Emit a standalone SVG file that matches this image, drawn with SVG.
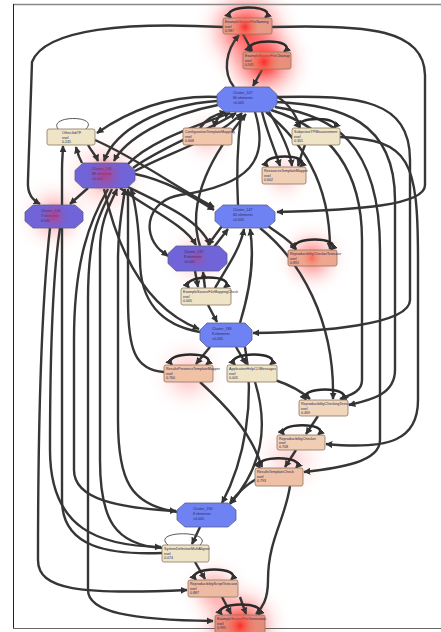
<svg xmlns="http://www.w3.org/2000/svg" width="441" height="632" viewBox="0 0 441 632">
<defs>
<radialGradient id="glow"><stop offset="0" stop-color="#ff1010" stop-opacity="0.95"/><stop offset="0.3" stop-color="#ff3838" stop-opacity="0.6"/><stop offset="0.7" stop-color="#ff9a9a" stop-opacity="0.15"/><stop offset="1" stop-color="#ffffff" stop-opacity="0"/></radialGradient>
<radialGradient id="hot"><stop offset="0" stop-color="#ff2020" stop-opacity="0.9"/><stop offset="0.5" stop-color="#ff4a3a" stop-opacity="0.45"/><stop offset="1" stop-color="#ff6050" stop-opacity="0"/></radialGradient>
<radialGradient id="pink"><stop offset="0" stop-color="#d0306a" stop-opacity="0.7"/><stop offset="0.6" stop-color="#c04080" stop-opacity="0.25"/><stop offset="1" stop-color="#b04090" stop-opacity="0"/></radialGradient>
<marker id="ah" viewBox="0 0 10 10" refX="9" refY="5" markerWidth="7" markerHeight="7" markerUnits="userSpaceOnUse" orient="auto-start-reverse"><path d="M0,0 L10,5 L0,10 z" fill="#333"/></marker>
<style>
.e{fill:none;stroke:#363636;stroke-width:2.4;marker-end:url(#ah)}
.loop{fill:none;stroke:#2a2a2a;stroke-width:2.4;marker-end:url(#ah);marker-start:url(#ah)}
.wl{fill:none;stroke:#444;stroke-width:0.9}
.r{stroke:#8a7660;stroke-width:0.8}
.o{stroke:#55608a;stroke-width:0.8}
.blue{fill:#6f82f4}
.pur{fill:#7064d8}
.beige{fill:#efe4c6}
.t{font-family:"Liberation Sans",Arial,sans-serif;font-size:3.6px;fill:#2a2a50}
.frame{stroke:#222;stroke-width:1;fill:none}
</style>
</defs>
<rect width="441" height="632" fill="#ffffff"/>
<g id="glows">
<circle cx="247" cy="30" r="56" fill="url(#glow)"/>
<circle cx="264" cy="62" r="52" fill="url(#glow)"/>
<circle cx="240" cy="626" r="52" fill="url(#glow)"/>
<circle cx="214" cy="590" r="38" fill="url(#glow)" opacity="0.45"/>
<circle cx="105" cy="176" r="52" fill="url(#glow)" opacity="0.35"/>
<circle cx="54" cy="216" r="42" fill="url(#glow)" opacity="0.45"/>
<circle cx="312" cy="258" r="40" fill="url(#glow)" opacity="0.6"/>
<circle cx="207" cy="138" r="34" fill="url(#glow)" opacity="0.25"/>
<circle cx="284" cy="176" r="34" fill="url(#glow)" opacity="0.25"/>
<circle cx="188" cy="375" r="44" fill="url(#glow)" opacity="0.3"/>
<circle cx="197" cy="258" r="40" fill="url(#glow)" opacity="0.25"/>
<circle cx="290" cy="460" r="46" fill="url(#glow)" opacity="0.2"/>
</g>
<g id="frame">
<line x1="13" y1="4.5" x2="441" y2="4.5" stroke="#888" stroke-width="1.6"/>
<line x1="13.5" y1="4" x2="13.5" y2="628" class="frame"/>
<line x1="13" y1="628.5" x2="441" y2="628.5" stroke="#666" stroke-width="1"/>
</g>
<g id="connectors">
<path class="e" d="M243 34 L252 51"/>
<path class="e" d="M234 87 C222 72 226 50 239 35"/>
<path class="e" d="M262 70 L253 86"/>
<path class="e" d="M223 27 C130 22 45 28 32 62 L28 180 C27 195 33 200 40 204"/>
<path class="e" d="M272 27 C370 24 424 30 425 75 L425 185 C425 205 360 210 277 212"/>
<path class="e" d="M217 97 C170 95 130 110 97 133"/>
<path class="e" d="M217 101 C160 105 115 130 104 161"/>
<path class="e" d="M218 105 C165 115 125 140 114 161"/>
<path class="e" d="M127 165 C150 140 200 125 230 113"/>
<path class="e" d="M133 168 C165 145 210 130 236 113"/>
<path class="e" d="M135 171 C175 150 215 140 242 113"/>
<path class="e" d="M88 145 C92 152 96 156 98 161"/>
<path class="e" d="M82 163 C78 156 77 151 76 147"/>
<path class="e" d="M88 188 L70 204"/>
<path class="e" d="M95 140 C140 160 180 190 214 207"/>
<path class="e" d="M135 174 C165 180 190 195 214 210"/>
<path class="e" d="M238 205 C236 170 238 140 241 114"/>
<path class="e" d="M200 246 C185 200 215 150 246 114"/>
<path class="e" d="M222 112 C218 118 215 122 214 127"/>
<path class="e" d="M200 128 C205 120 212 115 226 112"/>
<path class="e" d="M272 94 C285 100 295 112 300 127"/>
<path class="e" d="M262 112 C268 135 275 150 280 166"/>
<path class="e" d="M268 110 C280 130 290 150 292 166"/>
<path class="e" d="M305 145 C302 152 300 160 298 166"/>
<path class="e" d="M277 97 C360 95 410 100 410 160 L410 300 C410 325 320 332 253 333"/>
<path class="e" d="M277 102 C340 105 395 120 395 200 L395 370 C395 395 370 400 349 405"/>
<path class="e" d="M275 107 C330 115 380 140 380 250 L380 440 C380 462 340 468 304 472"/>
<path class="e" d="M271 110 C320 125 362 160 362 240 L362 380 C362 392 350 395 340 399"/>
<path class="e" d="M266 112 C300 140 330 180 330 249"/>
<path class="e" d="M340 137 C410 140 418 160 418 260 L418 400 C418 440 390 450 326 444"/>
<path class="e" d="M255 112 C270 160 250 185 180 195 C150 200 140 230 160 250 L168 256"/>
<path class="e" d="M222 226 L208 245"/>
<path class="e" d="M214 247 L228 229"/>
<path class="e" d="M268 226 C280 235 290 240 296 249"/>
<path class="e" d="M215 288 C225 270 240 250 244 229"/>
<path class="e" d="M240 323 C250 290 255 260 250 229"/>
<path class="e" d="M195 271 L198 287"/>
<path class="e" d="M205 288 L203 272"/>
<path class="e" d="M120 188 C150 210 185 225 196 245"/>
<path class="e" d="M126 186 C165 205 200 220 210 245"/>
<path class="e" d="M208 305 L217 322"/>
<path class="e" d="M210 347 L196 364"/>
<path class="e" d="M236 347 L246 364"/>
<path class="e" d="M200 332 C160 325 140 300 140 260 C139 230 136 205 131 189"/>
<path class="e" d="M177 512 C130 505 118 480 118 420 L118 260 C118 225 123 205 125 189"/>
<path class="e" d="M162 548 C115 545 100 520 100 460 L100 250 C100 220 110 205 117 189"/>
<path class="e" d="M164 372 C135 370 128 350 128 300 L128 230 C128 212 128 200 128 189"/>
<path class="e" d="M112 189 C100 215 88 230 88 300 L88 590 C88 612 130 620 213 621"/>
<path class="e" d="M108 189 C90 220 74 260 74 340 L74 470 C74 500 120 508 176 511"/>
<path class="e" d="M50 228 C42 300 38 400 38 560 C38 590 80 595 187 590"/>
<path class="e" d="M162 553 C110 555 62 548 62 500 L62 170 C62 158 63 152 63 146"/>
<path class="e" d="M60 228 C55 260 50 320 50 450 C50 530 100 546 161 547"/>
<path class="e" d="M104 189 C120 260 150 310 199 329"/>
<path class="e" d="M318 416 L306 434"/>
<path class="e" d="M296 450 L285 467"/>
<path class="e" d="M258 478 C245 485 236 495 230 503"/>
<path class="e" d="M200 382 C225 405 250 430 262 467"/>
<path class="e" d="M275 380 C290 385 300 390 310 399"/>
<path class="e" d="M260 228 C300 260 335 320 333 399"/>
<path class="e" d="M245 347 C255 400 245 460 222 503"/>
<path class="e" d="M255 382 C270 430 260 470 230 504"/>
<path class="e" d="M290 486 C285 520 268 540 268 580 C268 600 262 608 256 614"/>
<path class="e" d="M200 527 L192 544"/>
<path class="e" d="M195 562 L205 579"/>
<path class="e" d="M222 597 L231 614"/>
<path class="e" d="M240 597 L246 614"/>
<path class="loop" d="M231 18 C218 4 280 4 265 18"/>
<path class="loop" d="M251 52 C238 38 300 38 284 52"/>
<path class="wl" d="M58 129 C48 115 100 115 86 129"/>
<path class="loop" d="M300 128 C290 116 345 116 334 128"/>
<path class="loop" d="M268 167 C255 153 315 153 300 167"/>
<path class="loop" d="M296 250 C285 236 345 236 331 250"/>
<path class="loop" d="M189 288 C178 274 240 274 224 288"/>
<path class="loop" d="M172 365 C160 351 222 351 206 365"/>
<path class="loop" d="M235 365 C223 351 285 351 270 365"/>
<path class="loop" d="M306 400 C296 386 355 386 342 400"/>
<path class="loop" d="M284 435 C274 422 332 422 318 435"/>
<path class="loop" d="M260 468 C250 455 308 455 296 468"/>
<path class="wl" d="M168 545 C150 530 215 530 200 545"/>
<path class="loop" d="M196 580 C184 566 245 566 231 580"/>
<path class="loop" d="M222 615 C210 601 272 601 258 615"/>
</g>
<g id="A"><rect class="r" x="223" y="18" width="49" height="16" rx="2" fill="#e99a86"/><text class="t" x="225" y="23">ExampleSourceFileNaming</text><text class="t" x="225" y="27.5">exel</text><text class="t" x="225" y="32">0.987</text></g>
<g id="B"><rect class="r" x="243" y="52" width="48" height="17" rx="2" fill="#e8907c"/><text class="t" x="245" y="57">ExampleSourceFileCleanup</text><text class="t" x="245" y="61.5">exel</text><text class="t" x="245" y="66">0.945</text></g>
<g id="C1"><polygon class="o blue" points="225,87 269,87 277,94.5 277,104.5 269,112 225,112 217,104.5 217,94.5"/><text class="t" x="233" y="94">Cluster_107</text><text class="t" x="233" y="99">80 elements</text><text class="t" x="233" y="104">&lt;0.005</text></g>
<g id="D"><rect class="r beige" x="47" y="129" width="48" height="16" rx="2"/><text class="t" x="62" y="134">OtherJobTF</text><text class="t" x="62" y="138.5">exel</text><text class="t" x="62" y="143">0.245</text></g>
<g id="E"><rect class="r" x="183" y="128" width="49" height="17" rx="2" fill="#f2c6aa"/><text class="t" x="185" y="133">ConfigurationTemplateMapping</text><text class="t" x="185" y="137.5">exel</text><text class="t" x="185" y="142">0.668</text></g>
<g id="F"><rect class="r beige" x="292" y="128" width="48" height="17" rx="2"/><text class="t" x="294" y="133">SubjectiveTPMeasurement</text><text class="t" x="294" y="137.5">exel</text><text class="t" x="294" y="142">0.301</text></g>
<g id="C2"><polygon class="o pur" points="83,163 127,163 135,170.5 135,180.5 127,188 83,188 75,180.5 75,170.5"/><text class="t" x="92" y="170">Cluster_146</text><text class="t" x="92" y="175">88 elements</text><text class="t" x="92" y="180">&lt;0.005</text></g>
<g id="G"><rect class="r" x="262" y="167" width="44" height="17" rx="2" fill="#f2d0b5"/><text class="t" x="264" y="172">ResourcesTemplateMapper</text><text class="t" x="264" y="176.5">exel</text><text class="t" x="264" y="181">0.602</text></g>
<g id="C3"><polygon class="o pur" points="33,205 75,205 83,212 83,221 75,228 33,228 25,221 25,212"/><text class="t" x="41" y="212">Cluster_146</text><text class="t" x="41" y="217">7 elements</text><text class="t" x="41" y="222">0.946</text></g>
<g id="C4"><polygon class="o blue" points="223,205 267,205 275,212 275,221 267,228 223,228 215,221 215,212"/><text class="t" x="233" y="211">Cluster_147</text><text class="t" x="233" y="216">80 elements</text><text class="t" x="233" y="221">&lt;0.005</text></g>
<g id="H"><rect class="r" x="288" y="250" width="49" height="16" rx="2" fill="#eea68e"/><text class="t" x="290" y="255">ReproducibilityCheckerTestcase</text><text class="t" x="290" y="259.5">exel</text><text class="t" x="290" y="264">0.891</text></g>
<g id="C5"><polygon class="o pur" points="176,246 219,246 227,253.5 227,263.5 219,271 176,271 168,263.5 168,253.5"/><text class="t" x="184" y="253">Cluster_147</text><text class="t" x="184" y="258">8 elements</text><text class="t" x="184" y="263">&lt;0.005</text></g>
<g id="I"><rect class="r beige" x="181" y="288" width="50" height="17" rx="2"/><text class="t" x="183" y="293">ExampleSourceFileMappingCheck</text><text class="t" x="183" y="297.5">exel</text><text class="t" x="183" y="302">0.005</text></g>
<g id="C6"><polygon class="o blue" points="207,323 245,323 252,330 252,340 245,347 207,347 200,340 200,330"/><text class="t" x="212" y="330">Cluster_188</text><text class="t" x="212" y="335">8 elements</text><text class="t" x="212" y="340">&lt;0.005</text></g>
<g id="J"><rect class="r" x="164" y="365" width="49" height="17" rx="2" fill="#f0c1a4"/><text class="t" x="166" y="370">ResultsPresenceTemplateMapper</text><text class="t" x="166" y="374.5">exel</text><text class="t" x="166" y="379">0.760</text></g>
<g id="K"><rect class="r beige" x="227" y="365" width="50" height="17" rx="2"/><text class="t" x="229" y="370">ApplicationHelpCLIMessages</text><text class="t" x="229" y="374.5">exel</text><text class="t" x="229" y="379">0.005</text></g>
<g id="L"><rect class="r" x="299" y="400" width="49" height="16" rx="2" fill="#f1d6bc"/><text class="t" x="301" y="405">ReproducibilityCheckingTestcase</text><text class="t" x="301" y="409.5">exel</text><text class="t" x="301" y="414">0.469</text></g>
<g id="M"><rect class="r" x="277" y="435" width="48" height="15" rx="2" fill="#f0cdb3"/><text class="t" x="279" y="440">ReproducibilityChecker</text><text class="t" x="279" y="444">exel</text><text class="t" x="279" y="448">0.708</text></g>
<g id="N"><rect class="r" x="255" y="468" width="48" height="18" rx="2" fill="#efc0a6"/><text class="t" x="257" y="473">ResultsTemplateCheck</text><text class="t" x="257" y="477.5">exel</text><text class="t" x="257" y="482">0.793</text></g>
<g id="C7"><polygon class="o blue" points="185,503 228,503 236,510 236,520 228,527 185,527 177,520 177,510"/><text class="t" x="193" y="510">Cluster_190</text><text class="t" x="193" y="515">8 elements</text><text class="t" x="193" y="520">&lt;0.005</text></g>
<g id="O"><rect class="r beige" x="162" y="545" width="47" height="17" rx="2"/><text class="t" x="164" y="550">SystemDefinitionMultiAligner</text><text class="t" x="164" y="554.5">exel</text><text class="t" x="164" y="559">0.074</text></g>
<g id="P"><rect class="r" x="188" y="580" width="50" height="17" rx="2" fill="#eebba2"/><text class="t" x="190" y="585">ReproducibilityScriptTestcase</text><text class="t" x="190" y="589.5">exel</text><text class="t" x="190" y="594">0.887</text></g>
<g id="Q"><rect class="r" x="215" y="615" width="50" height="18" rx="2" fill="#e88a78"/><text class="t" x="217" y="620">ExampleSourceFileGeneration</text><text class="t" x="217" y="624.5">exel</text><text class="t" x="217" y="629">0.995</text></g>
<g id="hotspots">
<circle cx="245" cy="27" r="14" fill="url(#hot)"/>
<circle cx="264" cy="62" r="16" fill="url(#hot)"/>
<circle cx="240" cy="626" r="16" fill="url(#hot)"/>
<circle cx="105" cy="175" r="18" fill="url(#pink)"/>
<circle cx="54" cy="216" r="14" fill="url(#pink)"/>
<circle cx="312" cy="258" r="10" fill="url(#hot)" opacity="0.5"/>
<circle cx="197" cy="258" r="12" fill="url(#pink)" opacity="0.6"/>
</g>
</svg>
